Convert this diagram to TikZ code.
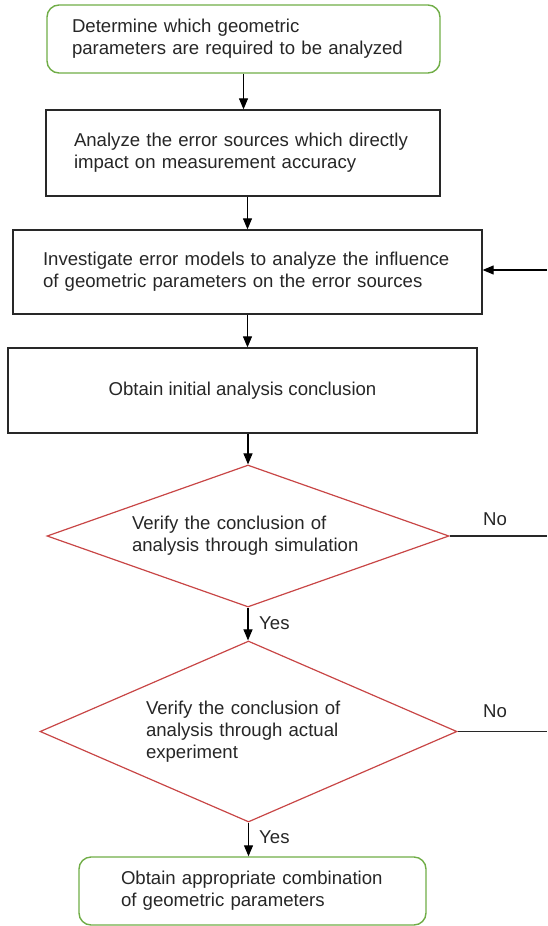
\documentclass[tikz,border=0pt]{standalone}
\usepackage{fontspec}
\setmainfont{Liberation Sans}
\usetikzlibrary{shapes.geometric,arrows.meta}
\definecolor{boxgreen}{RGB}{112,173,71}
\definecolor{dred}{RGB}{200,70,70}
\definecolor{lgray}{RGB}{40,40,40}
\begin{document}
\begin{tikzpicture}[x=1pt,y=-1pt,
  every node/.style={font=\fontsize{18.6}{22}\selectfont, text=black!85},
  greenbox/.style={draw=boxgreen, line width=1.4pt, rounded corners=12pt, inner sep=0pt, align=left},
  plainbox/.style={draw=lgray, line width=1.3pt, inner sep=0pt, align=left},
  decision/.style={diamond, draw=dred, line width=1.2pt, inner sep=0pt, align=left},
  arr/.style={draw=black, line width=1.1pt, -{Triangle[length=11pt,width=9pt]}},
  link/.style={draw=lgray, line width=1.2pt},
  lbl/.style={inner sep=0pt}]
\useasboundingbox (0,0) rectangle (547,926);

\node[greenbox, minimum width=393pt, minimum height=68pt, text width=343pt] (b1) at (243.5,39)
  {Determine which geometric\\parameters are required to be analyzed};
\node[plainbox, minimum width=394pt, minimum height=86pt, text width=338pt] (b2) at (243,153)
  {Analyze the error sources which directly\\impact on measurement accuracy};
\node[plainbox, minimum width=469pt, minimum height=84pt, text width=409pt] (b3) at (247.5,272)
  {Investigate error models to analyze the influence\\of geometric parameters on the error sources};
\node[plainbox, minimum width=469pt, minimum height=85pt, align=center] (b4) at (242.5,390.5)
  {Obtain initial analysis conclusion};
\node[decision, aspect=2.83, minimum width=402pt, minimum height=142pt, text width=232pt] (d1) at (248,536)
  {Verify the conclusion of\\analysis through simulation};
\node[decision, aspect=2.3, minimum width=417pt, minimum height=181pt, text width=205pt] (d2) at (248.5,731.5)
  {Verify the conclusion of\\analysis through actual\\experiment};
\node[greenbox, minimum width=347pt, minimum height=68pt, text width=263pt] (b5) at (252.5,891)
  {Obtain appropriate combination\\of geometric parameters};

\coordinate (fb) at (547,270);
\coordinate (redge) at (547,0);

\draw[arr] (b1.south) -- (b1.south |- b2.north);
\draw[arr] (b3.north |- b2.south) -- (b3.north);
\draw[arr] (b3.south) -- (b3.south |- b4.north);
\draw[arr] (d1.north |- b4.south) -- (d1.north);
\draw[arr] (d1.south) -- (d1.south |- d2.north);
\draw[arr] (d2.south) -- (d2.south |- b5.north);
\draw[arr] (fb) -- (fb -| b3.east);
\draw[link] (d1.east) -- (d1.east -| redge);
\draw[link] (d2.east) -- (d2.east -| redge);

\node[lbl, anchor=west] (yes1) at (259,623) {Yes};
\node[lbl, anchor=west] (yes2) at (259,837) {Yes};
\node[lbl] (no1) at (495,519.5) {No};
\node[lbl] (no2) at (495,711.5) {No};
\end{tikzpicture}
\end{document}
